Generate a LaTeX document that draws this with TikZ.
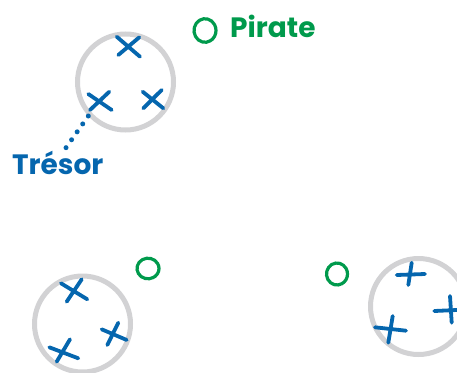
\documentclass[tikz,border=0pt]{standalone}
\usepackage{fontspec}
\setmainfont{Poppins}
\definecolor{tblue}{HTML}{0566AE}
\definecolor{tgreen}{HTML}{009A4C}
\definecolor{tgray}{HTML}{D2D2D4}
\begin{document}
\begin{tikzpicture}[x=1pt,y=-1pt,
  ring/.style={draw=tgray,line width=5pt},
  stroke/.style={draw=tblue,line width=3.8pt,line cap=round},
  hoop/.style={draw=tgreen,line width=3.2pt,line cap=round},
  lbl/.style={inner sep=0pt,font=\bfseries\fontsize{28}{32}\selectfont}]
\useasboundingbox (0,0) rectangle (457,372);
% rings
\draw[ring] (125.5,82) circle[radius=48];
\draw[ring] (82.5,324) circle[radius=48];
\draw[ring] (418.5,306.5) circle[radius=48];
% top crosses
\draw[stroke] (116.7,36.7) -- (140,56.7) (139.3,37.3) -- (118.3,55);
\draw[stroke] (88.3,94) -- (111.7,110) (109.3,91.7) -- (90,110);
\draw[stroke] (142.7,91.7) -- (163.3,108.3) (161.7,90) -- (143.3,108.3);
% bottom-left crosses
\draw[stroke] (61,283.3) -- (87.3,299.3) (81.7,279.3) -- (66.7,301.7);
\draw[stroke] (101.7,329.3) -- (126.7,340) (118.3,322.7) -- (107.3,345);
\draw[stroke] (49.3,347.3) -- (78.3,358.3) (70,339.3) -- (56.7,361.7);
% bottom-right crosses
\draw[stroke] (396.7,275) -- (425,274) (411.7,262.7) -- (408.3,285);
\draw[stroke] (375,327.3) -- (406,330.7) (392.7,316) -- (388.3,342.7);
\draw[stroke] (434.3,311) -- (456.7,310) (450,296) -- (451.7,322.7);
% green hoops
\draw[hoop] (205,30.5) ++(60:11 and 11.8) arc[start angle=60,end angle=425,x radius=11,y radius=11.8];
\draw[hoop] (148,268.5) ++(60:11 and 10.3) arc[start angle=60,end angle=425,x radius=11,y radius=10.3];
\draw[hoop] (337,274) ++(60:10.5 and 11) arc[start angle=60,end angle=425,x radius=10.5,y radius=11];
% labels
\node[lbl,text=tgreen,anchor=base west] (pirate) at (230,37) {Pirate};
\node[lbl,text=tblue,anchor=base west] (tresor) at (12,174) {Trésor};
\coordinate (tx) at (88.3,116);
\coordinate (tend) at (66,147.7);
\draw[tblue,line width=5pt,line cap=round,dash pattern=on 0pt off 9.68pt] (tx) -- (tend);
\end{tikzpicture}
\end{document}
